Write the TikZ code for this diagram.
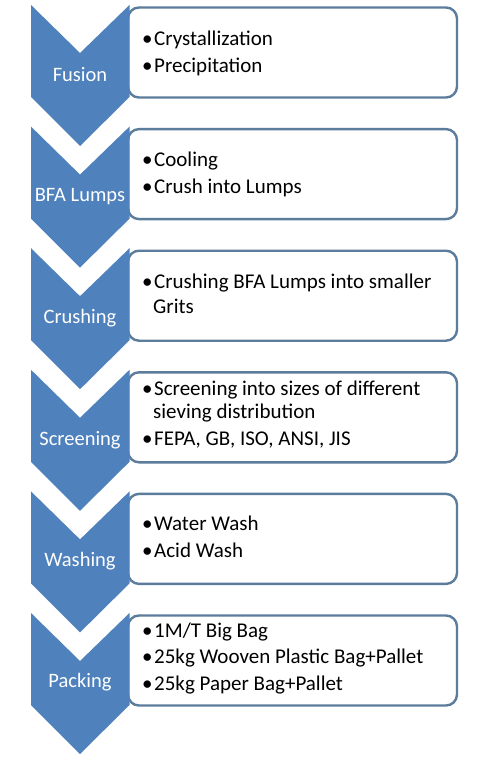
\documentclass[tikz,border=0pt]{standalone}
\usepackage{fontspec}
\setmainfont{Carlito}
\definecolor{chevblue}{RGB}{79,129,189}
\definecolor{boxline}{RGB}{92,124,156}
\begin{document}
\begin{tikzpicture}[x=1pt,y=-1pt,
  chev/.style={fill=chevblue,draw=none},
  boxnode/.style={draw=boxline,line width=2.4pt,fill=white,rounded corners=11pt,minimum width=329pt,minimum height=90pt,inner sep=0pt},
  lab/.style={text=white,font=\fontsize{20.5}{24}\selectfont,inner sep=0pt},
  item/.style={anchor=west,font=\fontsize{21}{25}\selectfont,inner sep=0pt,text=black}]
\useasboundingbox (0,0) rectangle (485,759);
\fill[white] (0,0) rectangle (485,759);
% Step 1
\begin{scope}[yshift=-5pt]
\node[boxnode] (b1) at (292.5,47.5) {};
\fill[chev] (31,0) -- (80,48) -- (129.5,0) -- (129.5,92) -- (80,141) -- (31,92) -- cycle;
\node[lab] (l1) at (80,70) {Fusion};
\node[item] (t1a) at (142,35) {\textbullet\hspace{1.5pt}Crystallization};
\node[item] (t1b) at (142,62) {\textbullet\hspace{1.5pt}Precipitation};
\end{scope}
% Step 2
\begin{scope}[yshift=-126.6pt]
\node[boxnode] (b2) at (292.5,47.5) {};
\fill[chev] (31,0) -- (80,48) -- (129.5,0) -- (129.5,92) -- (80,141) -- (31,92) -- cycle;
\node[lab] (l2) at (80,70) {BFA Lumps};
\node[item] (t2a) at (142,34) {\textbullet\hspace{1.5pt}Cooling};
\node[item] (t2b) at (142,61) {\textbullet\hspace{1.5pt}Crush into Lumps};
\end{scope}
% Step 3
\begin{scope}[yshift=-248.2pt]
\node[boxnode] (b3) at (292.5,47.5) {};
\fill[chev] (31,0) -- (80,48) -- (129.5,0) -- (129.5,92) -- (80,141) -- (31,92) -- cycle;
\node[lab] (l3) at (80,70) {Crushing};
\node[item] (t3a) at (142,35) {\textbullet\hspace{1.5pt}Crushing BFA Lumps into smaller};
\node[item] (t3b) at (153,58) {Grits};
\end{scope}
% Step 4
\begin{scope}[yshift=-369.8pt]
\node[boxnode] (b4) at (292.5,47.5) {};
\fill[chev] (31,0) -- (80,48) -- (129.5,0) -- (129.5,92) -- (80,141) -- (31,92) -- cycle;
\node[lab] (l4) at (80,70) {Screening};
\node[item] (t4a) at (142,20) {\textbullet\hspace{1.5pt}Screening into sizes of different};
\node[item] (t4b) at (153,43) {sieving distribution};
\node[item] (t4c) at (142,70) {\textbullet\hspace{1.5pt}FEPA, GB, ISO, ANSI, JIS};
\end{scope}
% Step 5
\begin{scope}[yshift=-491.4pt]
\node[boxnode] (b5) at (292.5,47.5) {};
\fill[chev] (31,0) -- (80,48) -- (129.5,0) -- (129.5,92) -- (80,141) -- (31,92) -- cycle;
\node[lab] (l5) at (80,70) {Washing};
\node[item] (t5a) at (142,32) {\textbullet\hspace{1.5pt}Water Wash};
\node[item] (t5b) at (142,59) {\textbullet\hspace{1.5pt}Acid Wash};
\end{scope}
% Step 6
\begin{scope}[yshift=-613pt]
\node[boxnode] (b6) at (292.5,47.5) {};
\fill[chev] (31,0) -- (80,48) -- (129.5,0) -- (129.5,92) -- (80,141) -- (31,92) -- cycle;
\node[lab] (l6) at (80,69) {Packing};
\node[item] (t6a) at (142,19) {\textbullet\hspace{1.5pt}1M/T Big Bag};
\node[item] (t6b) at (142,45) {\textbullet\hspace{1.5pt}25kg Wooven Plastic Bag+Pallet};
\node[item] (t6c) at (142,72) {\textbullet\hspace{1.5pt}25kg Paper Bag+Pallet};
\end{scope}
\end{tikzpicture}
\end{document}
